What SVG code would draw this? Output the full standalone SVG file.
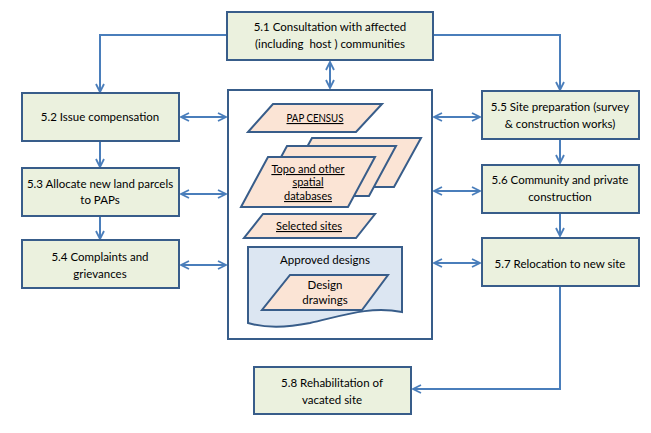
<svg xmlns="http://www.w3.org/2000/svg" width="651" height="433" viewBox="0 0 651 433">
<style>
.box{fill:#ebf1de;stroke:#385d8a;stroke-width:2}
.cbox{fill:#ffffff;stroke:#385d8a;stroke-width:2}
.para{fill:#fbe4d5;stroke:#385d8a;stroke-width:2;stroke-linejoin:miter}
.doc{fill:#dce6f2;stroke:#385d8a;stroke-width:2}
.t{font-family:Lato,"Liberation Sans",sans-serif;font-size:11.5px;fill:#000;text-anchor:middle}
.s{font-size:11px}
.u{text-decoration:underline}
.c{fill:none;stroke:#4a7ebb;stroke-width:2}
</style>
<defs>
<marker id="ah" viewBox="0 0 10 10" refX="9" refY="5" markerWidth="10" markerHeight="10" markerUnits="userSpaceOnUse" orient="auto-start-reverse">
<path d="M1,1 L9,5 L1,9" fill="none" stroke="#4a7ebb" stroke-width="1.8"/>
</marker>
</defs>
<rect width="651" height="433" fill="#ffffff"/>
<g id="connectors">
<path class="c" d="M227,35 H100 V92" marker-end="url(#ah)"/>
<path class="c" d="M433,35 H560 V90" marker-end="url(#ah)"/>
<path class="c" d="M330,62 V88" marker-start="url(#ah)" marker-end="url(#ah)"/>
<path class="c" d="M181,117 H226" marker-start="url(#ah)" marker-end="url(#ah)"/>
<path class="c" d="M434,117 H480" marker-start="url(#ah)" marker-end="url(#ah)"/>
<path class="c" d="M100,141 V167" marker-end="url(#ah)"/>
<path class="c" d="M181,194 H226" marker-start="url(#ah)" marker-end="url(#ah)"/>
<path class="c" d="M100,216 V239" marker-end="url(#ah)"/>
<path class="c" d="M181,265 H226" marker-start="url(#ah)" marker-end="url(#ah)"/>
<path class="c" d="M560,139 V163" marker-end="url(#ah)"/>
<path class="c" d="M434,191 H480" marker-start="url(#ah)" marker-end="url(#ah)"/>
<path class="c" d="M560,213 V236" marker-end="url(#ah)"/>
<path class="c" d="M434,263 H480" marker-start="url(#ah)" marker-end="url(#ah)"/>
<path class="c" d="M560,287 V389 H413" marker-end="url(#ah)"/>
</g>
<g id="n51">
<rect class="box" x="227" y="12" width="206" height="48"/>
<text class="t" x="330" y="31">5.1 Consultation with affected</text>
<text class="t" x="330" y="48" xml:space="preserve">(including  host ) communities</text>
</g>
<g id="n52">
<rect class="box" x="22" y="93" width="157" height="48"/>
<text class="t" x="100" y="121">5.2 Issue compensation</text>
</g>
<g id="n53">
<rect class="box" x="22" y="168" width="157" height="48"/>
<text class="t" x="100" y="188">5.3 Allocate new land parcels</text>
<text class="t" x="100" y="204">to PAPs</text>
</g>
<g id="n54">
<rect class="box" x="22" y="240" width="157" height="48"/>
<text class="t" x="100" y="261">5.4 Complaints and</text>
<text class="t" x="100" y="278">grievances</text>
</g>
<g id="n55">
<rect class="box" x="482" y="91" width="157" height="48"/>
<text class="t" x="560" y="111">5.5 Site preparation (survey</text>
<text class="t" x="560" y="128">&amp; construction works)</text>
</g>
<g id="n56">
<rect class="box" x="482" y="165" width="157" height="48"/>
<text class="t" x="560" y="184">5.6 Community and private</text>
<text class="t" x="560" y="201">construction</text>
</g>
<g id="n57">
<rect class="box" x="482" y="238" width="157" height="48"/>
<text class="t" x="560" y="268">5.7 Relocation to new site</text>
</g>
<g id="n58">
<rect class="box" x="254" y="367" width="157" height="47"/>
<text class="t" x="332" y="387">5.8 Rehabilitation of</text>
<text class="t" x="332" y="404">vacated site</text>
</g>
<g id="center">
<rect class="cbox" x="228" y="90" width="204" height="249"/>
</g>
<g id="pap-census">
<polygon class="para" points="273,104 382,104 356,132 248,132"/>
<text class="t s u" x="315" y="122" textLength="57" lengthAdjust="spacingAndGlyphs">PAP CENSUS</text>
</g>
<g id="databases">
<polygon class="para" points="312,138 421,138 394,187 285,187"/>
<polygon class="para" points="287,146 396,146 369,196 260,196"/>
<polygon class="para" points="268,157 375,157 348,207 241,207"/>
<text class="t s u" x="308" y="173">Topo and other</text>
<text class="t s u" x="308" y="186">spatial</text>
<text class="t s u" x="308" y="200">databases</text>
</g>
<g id="selected-sites">
<polygon class="para" points="263,214 375,214 356,238 244,238"/>
<text class="t s u" x="309" y="230">Selected sites</text>
</g>
<g id="approved-designs">
<path class="doc" d="M248,247 H402 V312 C370,306 345,315 310,323 C285,328 265,328 248,323 Z"/>
<text class="t" x="325" y="264">Approved designs</text>
</g>
<g id="design-drawings">
<polygon class="para" points="290,275 388,275 362,310 262,310"/>
<text class="t" x="325" y="289">Design</text>
<text class="t" x="325" y="304">drawings</text>
</g>
</svg>
